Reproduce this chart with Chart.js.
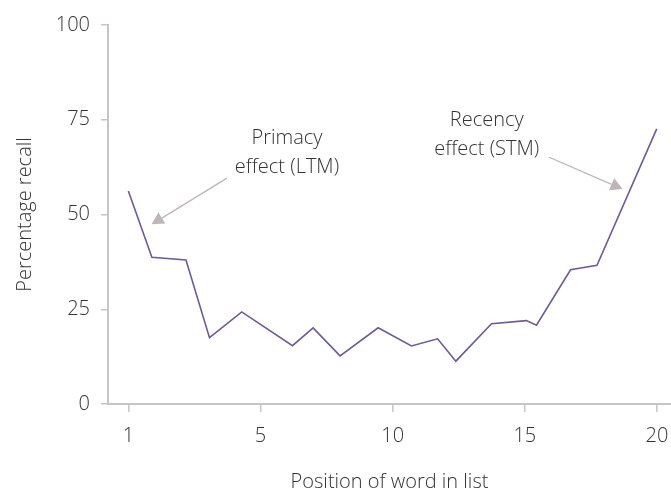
<!DOCTYPE html>
<html>
<head>
<meta charset="utf-8">
<script src="https://cdn.jsdelivr.net/npm/chart.js@4"></script>
<style>
  html, body { margin: 0; padding: 0; background: #fff; }
  #wrap { width: 671px; height: 492px; position: relative; }
</style>
</head>
<body>
<div id="wrap"><canvas id="grafico"></canvas></div>
<script>
// posição no eixo (0 = palavra 1) e percentagem lembrada
const posicoes = [0, 0.89, 2.18, 3.07, 4.29, 6.21, 6.99, 8.01, 9.45, 10.71, 11.70, 12.39, 13.74, 15.06, 15.44, 16.73, 17.73, 19.99];
const recall   = [56.2, 38.7, 38.0, 17.5, 24.3, 15.4, 20.1, 12.7, 20.1, 15.3, 17.2, 11.3, 21.2, 22.0, 20.8, 35.4, 36.6, 72.6];
const xTicks = [0, 5, 10, 15, 20];
const xTickLabels = ["1", "5", "10", "15", "20"];
const yTicks = [0, 25, 50, 75, 100];

// anotações: texto (linha de base) + seta, em valores dos eixos
const anotacoes = [
  { linhas: ["Primacy", "effect (LTM)"], tx: 6.0, ty: 68.6, de: [3.73, 59.6], ate: [0.88, 47.4] },
  { linhas: ["Recency", "effect (STM)"], tx: 13.56, ty: 73.35, de: [15.92, 65.1], ate: [18.70, 56.7] }
];

const corEixo = "#c9c3c3";
const corTexto = "#333333";
const fonte = "'Open Sans', sans-serif";

const pontos = posicoes.map((x, i) => ({ x, y: recall[i] }));

const pluginAnotacoes = {
  id: "anotacoes",
  afterDatasetsDraw(chart) {
    const { ctx, scales: { x, y } } = chart;
    ctx.save();
    anotacoes.forEach(a => {
      ctx.fillStyle = corTexto;
      ctx.font = "300 20px " + fonte;
      ctx.textAlign = "center";
      ctx.textBaseline = "alphabetic";
      const cx = x.getPixelForValue(a.tx), cy = y.getPixelForValue(a.ty);
      a.linhas.forEach((l, i) => ctx.fillText(l, cx, cy + i * 28.5));

      const x1 = x.getPixelForValue(a.de[0]), y1 = y.getPixelForValue(a.de[1]);
      const x2 = x.getPixelForValue(a.ate[0]), y2 = y.getPixelForValue(a.ate[1]);
      const ang = Math.atan2(y2 - y1, x2 - x1);
      const tam = 12;
      ctx.strokeStyle = "#bdb6b6";
      ctx.fillStyle = "#bdb6b6";
      ctx.lineWidth = 1.3;
      ctx.beginPath();
      ctx.moveTo(x1, y1);
      ctx.lineTo(x2 - Math.cos(ang) * tam, y2 - Math.sin(ang) * tam);
      ctx.stroke();
      ctx.beginPath();
      ctx.moveTo(x2, y2);
      ctx.lineTo(x2 - Math.cos(ang) * tam + Math.sin(ang) * 6.5, y2 - Math.sin(ang) * tam - Math.cos(ang) * 6.5);
      ctx.lineTo(x2 - Math.cos(ang) * tam - Math.sin(ang) * 6.5, y2 - Math.sin(ang) * tam + Math.cos(ang) * 6.5);
      ctx.closePath();
      ctx.fill();
    });
    ctx.restore();
  }
};

new Chart(document.getElementById("grafico"), {
  type: "line",
  data: {
    datasets: [{
      data: pontos,
      borderColor: "#6d5a99",
      borderWidth: 1.6,
      pointRadius: 0,
      tension: 0,
      fill: false
    }]
  },
  options: {
    responsive: true,
    maintainAspectRatio: false,
    animation: false,
    layout: { padding: { top: 25, right: 0, bottom: 0, left: 0 } },
    plugins: { legend: { display: false }, tooltip: { enabled: false } },
    scales: {
      x: {
        type: "linear",
        min: -0.77,
        max: 20.53,
        afterBuildTicks: s => { s.ticks = xTicks.map(v => ({ value: v })); },
        afterFit: s => { s.height = 88; s.paddingLeft = 0; s.paddingRight = 0; },
        ticks: {
          color: corTexto,
          font: { family: fonte, size: 20, weight: 300 },
          padding: 12,
          maxRotation: 0,
          callback: v => xTickLabels[xTicks.indexOf(v)]
        },
        grid: { display: true, drawOnChartArea: false, drawTicks: true, tickLength: 8, color: corEixo, lineWidth: 1.5 },
        border: { display: true, color: corEixo, width: 2 },
        title: {
          display: true,
          text: "Position of word in list",
          color: corTexto,
          font: { family: fonte, size: 20, weight: 300 },
          padding: { top: 0, bottom: -2 }
        }
      },
      y: {
        min: 0,
        max: 100,
        afterBuildTicks: s => { s.ticks = yTicks.map(v => ({ value: v })); },
        afterFit: s => { s.width = 108; },
        ticks: {
          color: corTexto,
          font: { family: fonte, size: 20, weight: 300 },
          padding: 11
        },
        grid: { display: true, drawOnChartArea: false, drawTicks: true, tickLength: 7, color: corEixo, lineWidth: 1.5 },
        border: { display: true, color: corEixo, width: 2 },
        title: {
          display: true,
          text: "Percentage recall",
          color: corTexto,
          font: { family: fonte, size: 20, weight: 300 },
          padding: { top: 13, bottom: 0 }
        }
      }
    }
  },
  plugins: [pluginAnotacoes]
});
</script>
</body>
</html>
